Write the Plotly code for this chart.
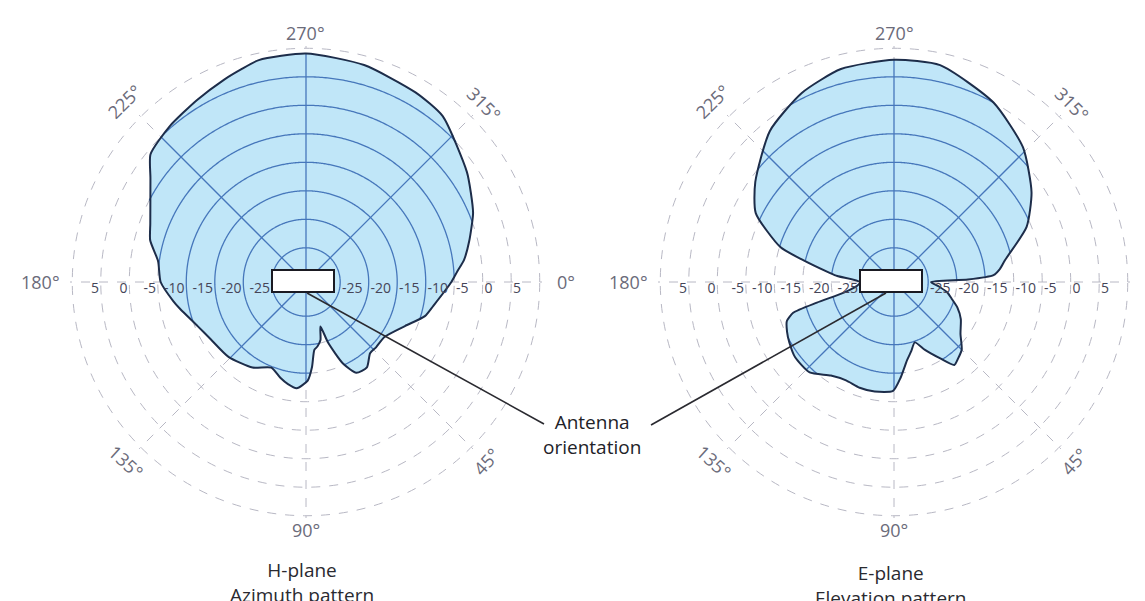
import numpy as np
import plotly.graph_objects as go

# ---------------- data ----------------
# H-plane (azimuth) pattern: angle in degrees, gain in dB
h_theta = [0, 10.7, 16, 24, 35, 43, 48, 54.5, 61, 65.6, 70, 72, 76, 80, 83, 86, 89,
           95, 100, 105, 112, 122, 136, 149, 157.7, 168, 171.7, 180, 188, 195, 200.7,
           213.7, 219.4, 228.7, 239, 248, 253, 258, 270, 285, 300, 309.5, 325.6, 331.5,
           337.6, 346, 352, 356]
h_gain = [-5.5, -8.3, -9.3, -12, -14.2, -14.2, -14.2, -12.6, -12.8, -15.3, -19.7, -22.8, -20.5, -19.5, -19, -16, -13.7,
          -12.3, -12.8, -13.6, -14.8, -13.3, -12.1, -11.5, -10.5, -8.4, -7.5, -5.5, -4.8, -2.7, -1.8,
          1.8, 4.3, 5.3, 6.2, 7.3, 8, 8.8, 9.1, 8.4, 7.4, 6.7, 3.2, 1.9,
          0.7, -1.5, -3, -4.4]

# E-plane (elevation) pattern
e_theta = [0, 6, 11, 16, 22, 29, 38, 45, 50, 54, 59, 65.5, 71, 76, 80.5, 86, 90.5,
           100, 108, 116, 124, 133, 142.7, 150, 155, 160, 163, 165, 168, 174, 180,
           186, 188, 193.5, 197, 206.5, 215.8, 230.6, 244, 256, 270, 282, 299, 313.8,
           326.9, 337.4, 349, 353, 356, 358]
e_gain = [-24.5, -23, -21.5, -20.5, -19, -17.6, -16.2, -14.2, -13.5, -13, -15.4, -17.9, -19.8, -18.5, -17.1, -14.2, -11.9,
          -11.5, -11.5, -11.8, -11.2, -9.3, -9.2, -9.8, -10.3, -11, -12.5, -17, -22, -24.5, -25,
          -21, -19.7, -14.7, -10.2, -3.9, -1, 3.3, 5.9, 7.5, 8, 7.9, 5, 1.7,
          -2.2, -5.8, -11.2, -12.3, -13.5, -18]

ring_values = [-25, -20, -15, -10, -5, 0, 5, 10]
ring_labels = [-25, -20, -15, -10, -5, 0, 5]
angle_ticks = [0, 45, 90, 135, 180, 225, 270, 315]
angle_labels = ["0°", "45°", "90°", "135°", "180°", "225°", "270°", "315°"]
titles = ["H-plane<br>Azimuth pattern", "E-plane<br>Elevation pattern"]
annotation_text = "Antenna<br>orientation"

# ---------------- styling / geometry ----------------
W, H = 1145, 601
R_MIN, R_MAX = -31, 10.4
R_PX = 236
centers = [(298, 274), (886, 274)]
title_y = [574, 577]
FILL = "#c0e6f8"
OUTLINE = "#1d2d4a"
BLUE = "#4677bb"
GRID = "#b8b8c4"
LABEL = "#6b6b7a"
FONT = "Open Sans"

fig = go.Figure()

patterns = [(h_theta, h_gain), (e_theta, e_gain)]
dense = np.arange(0, 360.001, 0.5)

for i, ((theta, gain), (cx, cy)) in enumerate(zip(patterns, centers)):
    sub = "polar" if i == 0 else "polar2"
    tc = list(theta) + [theta[0]]
    gc = list(gain) + [gain[0]]
    # filled pattern
    fig.add_trace(go.Scatterpolar(theta=tc, r=gc, mode="lines", subplot=sub,
                                  line=dict(width=0, color=FILL, shape="spline", smoothing=0.6),
                                  fill="toself", fillcolor=FILL, hoverinfo="skip"))
    # blue grid inside the pattern
    pat = np.interp(dense, theta, gain, period=360)
    for v in ring_values:
        rr = [float(v) if p >= v else None for p in pat]
        fig.add_trace(go.Scatterpolar(theta=dense, r=rr, mode="lines", subplot=sub,
                                      line=dict(color=BLUE, width=1.3), connectgaps=False,
                                      hoverinfo="skip"))
    for a in angle_ticks:
        if a in (0, 180):
            continue
        end = float(np.interp(a, theta, gain, period=360))
        fig.add_trace(go.Scatterpolar(theta=[a, a], r=[R_MIN, end], mode="lines", subplot=sub,
                                      line=dict(color=BLUE, width=1.3), hoverinfo="skip"))
    # outline
    fig.add_trace(go.Scatterpolar(theta=tc, r=gc, mode="lines", subplot=sub,
                                  line=dict(width=2, color=OUTLINE, shape="spline", smoothing=0.6),
                                  hoverinfo="skip"))
    # radial labels on both sides
    fig.add_trace(go.Scatterpolar(theta=[180] * len(ring_labels), r=[v + 0.3 for v in ring_labels],
                                  mode="text", text=[str(v) for v in ring_labels],
                                  textposition="bottom left", subplot=sub,
                                  textfont=dict(family=FONT, size=14, color="#454558"), hoverinfo="skip"))
    fig.add_trace(go.Scatterpolar(theta=[0] * len(ring_labels), r=[v + 0.3 for v in ring_labels],
                                  mode="text", text=[str(v) for v in ring_labels],
                                  textposition="bottom right", subplot=sub,
                                  textfont=dict(family=FONT, size=14, color="#454558"), hoverinfo="skip"))

polar_common = dict(
    bgcolor="rgba(0,0,0,0)",
    radialaxis=dict(range=[R_MIN, R_MAX], tickvals=ring_values, showticklabels=False, ticks="",
                    showline=False, gridcolor=GRID, griddash="dash", gridwidth=1),
    angularaxis=dict(direction="clockwise", rotation=0, tickvals=angle_ticks, showticklabels=False,
                     ticks="", showline=False, gridcolor=GRID, griddash="dash", gridwidth=1),
)

def domain(cx, cy):
    return dict(x=[(cx - R_PX) / W, (cx + R_PX) / W], y=[1 - (cy + R_PX) / H, 1 - (cy - R_PX) / H])

annotations = []
shapes = []
label_dist = {0: 260, 180: 266, 90: 248, 270: 249, 45: 254, 135: 254, 225: 256, 315: 252}
label_rot = {0: 0, 180: 0, 90: 0, 270: 0, 45: -48, 135: 42, 225: -45, 315: 45}
for (cx, cy), title, ty in zip(centers, titles, title_y):
    for a, lab in zip(angle_ticks, angle_labels):
        d = label_dist[a]
        x = cx + d * np.cos(np.radians(a))
        y = cy + d * np.sin(np.radians(a))
        annotations.append(dict(x=x / W, y=1 - y / H, xref="paper", yref="paper", text=lab,
                                showarrow=False, textangle=label_rot[a], xanchor="center", yanchor="middle",
                                font=dict(family=FONT, size=18, color=LABEL)))
    annotations.append(dict(x=(cx - 4) / W, y=1 - ty / H, xref="paper", yref="paper", text=title,
                            showarrow=False, xanchor="center", yanchor="middle",
                            font=dict(family=FONT, size=19, color="#2a2a30")))
    # antenna rectangle
    shapes.append(dict(type="rect", xref="paper", yref="paper",
                       x0=(cx - 34) / W, x1=(cx + 28) / W, y0=1 - 284 / H, y1=1 - 262 / H,
                       fillcolor="white", line=dict(color="#1a1a22", width=2), layer="above"))

annotations.append(dict(x=584 / W, y=1 - 426 / H, xref="paper", yref="paper", text=annotation_text,
                        showarrow=False, xanchor="center", yanchor="middle",
                        font=dict(family=FONT, size=19, color="#222228")))
shapes.append(dict(type="line", xref="paper", yref="paper", x0=299 / W, y0=1 - 285 / H,
                   x1=536 / W, y1=1 - 416 / H, line=dict(color="#2a2a30", width=1.6)))
shapes.append(dict(type="line", xref="paper", yref="paper", x0=878 / W, y0=1 - 285 / H,
                   x1=643 / W, y1=1 - 417 / H, line=dict(color="#2a2a30", width=1.6)))

fig.update_layout(
    width=W, height=H, margin=dict(l=0, r=0, t=0, b=0),
    paper_bgcolor="white", plot_bgcolor="white", showlegend=False,
    polar=dict(domain=domain(*centers[0]), **polar_common),
    polar2=dict(domain=domain(*centers[1]), **polar_common),
    annotations=annotations, shapes=shapes,
)

fig.write_html("out.html")
